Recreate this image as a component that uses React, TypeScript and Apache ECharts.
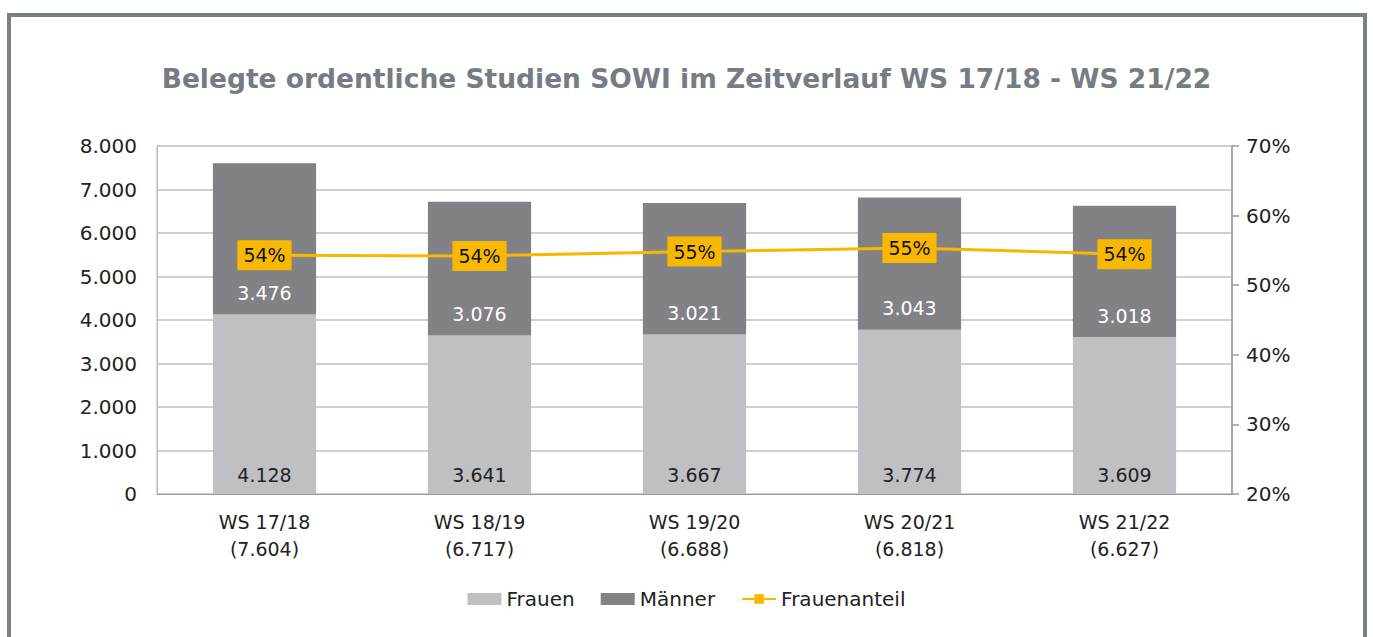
import React, { useEffect, useRef } from "react";
import * as echarts from "echarts";

const categories = ["WS 17/18", "WS 18/19", "WS 19/20", "WS 20/21", "WS 21/22"];
const totals = ["7.604", "6.717", "6.688", "6.818", "6.627"];
const frauen = [4128, 3641, 3667, 3774, 3609];
const maenner = [3476, 3076, 3021, 3043, 3018];
const anteil = [54.29, 54.21, 54.83, 55.35, 54.46];
const leftTicks = [0, 1000, 2000, 3000, 4000, 5000, 6000, 7000, 8000];

const fmt = (v: number) => {
  const s = String(Math.round(v));
  return s.length > 3 ? s.slice(0, s.length - 3) + "." + s.slice(-3) : s;
};

const FONT = "'DejaVu Sans', 'Noto Sans', sans-serif";

export default function App() {
  const ref = useRef<HTMLDivElement>(null);
  useEffect(() => {
    document.body.style.margin = "0";
    const chart = echarts.init(ref.current!, null, { renderer: "svg" });
    chart.setOption({
      animation: false,
      backgroundColor: "#ffffff",
      textStyle: { fontFamily: FONT },
      title: {
        text: "Belegte ordentliche Studien SOWI im Zeitverlauf WS 17/18 - WS 21/22",
        left: "center",
        top: 60,
        textStyle: { fontSize: 26.5, fontWeight: "bold", color: "#757c83", fontFamily: FONT },
      },
      graphic: [
        {
          type: "rect",
          shape: { x: 9, y: 15, width: 1356, height: 700 },
          style: { fill: "none", stroke: "#7a8088", lineWidth: 4 },
          silent: true,
        },
      ],
      legend: {
        bottom: 23,
        left: "center",
        itemWidth: 34,
        itemHeight: 12,
        itemGap: 26,
        textStyle: { fontSize: 20, color: "#222", fontFamily: FONT },
        data: [
          { name: "Frauen", icon: "rect" },
          { name: "Männer", icon: "rect" },
          { name: "Frauenanteil" },
        ],
      },
      grid: {
        left: 157,
        right: 141,
        top: 146,
        bottom: 143,
        show: true,
        borderColor: "#b8b8b8",
        borderWidth: 1,
      },
      xAxis: {
        type: "category",
        data: categories,
        axisTick: { show: false },
        axisLine: { lineStyle: { color: "#999", width: 1 } },
        axisLabel: {
          fontSize: 19,
          color: "#222",
          lineHeight: 27,
          margin: 14,
          formatter: (v: string, i: number) => `${v}\n(${totals[i]})`,
        },
      },
      yAxis: [
        {
          type: "value",
          min: leftTicks[0],
          max: leftTicks[leftTicks.length - 1],
          interval: 1000,
          axisLine: { show: true, lineStyle: { color: "#b8b8b8" } },
          axisTick: { show: false },
          splitLine: { lineStyle: { color: "#cfcfcf", width: 2 } },
          axisLabel: { fontSize: 20, color: "#222", margin: 20, formatter: (v: number) => fmt(v) },
        },
        {
          type: "value",
          min: 20,
          max: 70,
          interval: 10,
          position: "right",
          axisLine: { show: true, lineStyle: { color: "#999", width: 1.5 } },
          axisTick: { show: true, length: 7, inside: false, lineStyle: { color: "#999", width: 1.5 } },
          splitLine: { show: false },
          axisLabel: { fontSize: 20, color: "#222", margin: 14, formatter: (v: number) => `${v}%` },
        },
      ],
      series: [
        {
          name: "Frauen",
          type: "bar",
          stack: "s",
          data: frauen,
          barWidth: "48%",
          itemStyle: { color: "#bfc0c4" },
          label: {
            show: true,
            position: "insideBottom",
            distance: 10,
            fontSize: 19,
            color: "#222",
            formatter: (p: any) => fmt(p.value),
          },
        },
        {
          name: "Männer",
          type: "bar",
          stack: "s",
          data: maenner,
          barWidth: "48%",
          itemStyle: { color: "#818186" },
          label: {
            show: true,
            position: "insideBottom",
            distance: 12,
            fontSize: 19,
            color: "#ffffff",
            formatter: (p: any) => fmt(p.value),
          },
        },
        {
          name: "Frauenanteil",
          type: "line",
          yAxisIndex: 1,
          data: anteil,
          symbol: "rect",
          symbolSize: 12,
          lineStyle: { color: "#f9b800", width: 3 },
          itemStyle: { color: "#f9b800" },
          z: 5,
          label: {
            show: true,
            position: "inside",
            fontSize: 19,
            color: "#111",
            backgroundColor: "#f9b800",
            padding: [6, 6, 5, 6],
            formatter: (p: any) => `${Math.round(p.value)}%`,
          },
        },
      ],
    });
    return () => chart.dispose();
  }, []);
  return <div ref={ref} style={{ width: 1373, height: 637 }} />;
}
